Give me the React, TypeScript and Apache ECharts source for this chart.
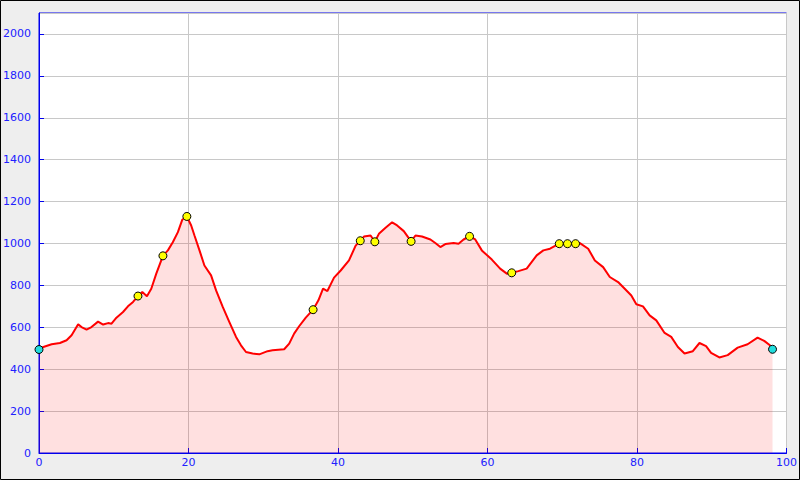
import React, { useEffect, useRef } from "react";
import * as echarts from "echarts";

const distances = [
  0, 0.58, 1.69, 2.8, 3.69, 4.36, 5.24, 5.69, 6.36, 7.02, 7.9, 8.58, 9.24, 9.7, 10.36, 11.24, 11.9, 12.58,
  13.24, 13.82, 14.44, 15.02, 15.69, 16.58, 17.24, 17.9, 18.58, 19.16, 19.78, 20.36, 20.8, 21.47, 22.13,
  23.02, 23.69, 24.58, 25.47, 26.36, 27.02, 27.69, 28.58, 29.47, 30.58, 31.24, 32.8, 33.47, 34.13, 34.8,
  35.69, 36.67, 37.38, 38, 38.58, 39.47, 40.36, 41.47, 42.36, 42.98, 43.47, 44.36, 44.93, 45.47, 46.36,
  47.24, 47.91, 48.8, 49.78, 50.36, 51.24, 52.36, 53.02, 53.69, 54.36, 55.47, 56.13, 56.8, 57.6, 58.36,
  59.24, 60.58, 61.69, 62.58, 63.24, 64.13, 65.24, 66.58, 67.47, 68.36, 69.6, 70.7, 71.78, 72.36, 73.47,
  74.36, 75.47, 76.36, 77.47, 78.36, 79.24, 79.91, 80.8, 81.69, 82.58, 83.69, 84.58, 85.47, 86.36, 87.47,
  88.36, 89.24, 89.91, 91.02, 92.13, 93.47, 94.8, 96.13, 97.02, 97.78, 98.13,
];
const elevations = [
  494, 506, 519, 525, 538, 562, 614, 601, 589, 601, 627, 613, 620, 617, 646, 673, 700, 721,
  749, 768, 748, 784, 856, 941, 967, 1006, 1054, 1113, 1129, 1086, 1038, 967, 895,
  848, 776, 697, 625, 554, 514, 482, 475, 471, 486, 490, 495, 522, 570, 605,
  646, 684, 729, 784, 773, 837, 871, 919, 990, 1013, 1033, 1038, 1008, 1046, 1075,
  1101, 1086, 1059, 1010, 1038, 1033, 1019, 1002, 983, 997, 1002, 999, 1019, 1034, 1019,
  967, 923, 880, 856, 860, 868, 880, 943, 967, 975, 999, 999, 999, 1002, 975,
  919, 887, 840, 816, 784, 752, 710, 700, 657, 633, 573, 554, 506, 475, 486,
  525, 510, 478, 456, 467, 503, 519, 551, 535, 514, 495,
];

const waypointDist = [13.24, 16.58, 19.78, 36.67, 42.98, 44.93, 49.78, 57.6, 63.24, 69.6, 70.7, 71.78];
const waypointElev = [749, 941, 1129, 684, 1013, 1008, 1010, 1034, 860, 999, 999, 999];

const endDist = [0, 98.13];
const endElev = [494, 495];

export default function App() {
  const ref = useRef<HTMLDivElement>(null);
  useEffect(() => {
    if (!ref.current) return;
    const chart = echarts.init(ref.current, undefined, { renderer: "svg" });
    const blue = "#0000ee";
    const labelBlue = "#2020ff";
    chart.setOption({
      animation: false,
      backgroundColor: "#eeeeee",
      textStyle: { fontFamily: "DejaVu Sans" },
      graphic: [
        {
          type: "rect",
          shape: { x: 0.5, y: 0.5, width: 799, height: 479 },
          style: { fill: "none", stroke: "#000", lineWidth: 1 },
          silent: true,
          z: 100,
        },
      ],
      grid: {
        left: 39,
        right: 11,
        top: 13,
        bottom: 27,
        show: true,
        backgroundColor: "#ffffff",
        borderColor: blue,
        borderWidth: 1,
      },
      xAxis: {
        type: "value",
        min: 0,
        max: 100,
        interval: 20,
        axisLine: { show: true, onZero: false, lineStyle: { color: blue, width: 1 } },
        axisTick: { show: true, inside: true, length: 5, lineStyle: { color: blue } },
        axisLabel: { color: labelBlue, fontSize: 11, margin: 4, fontFamily: "DejaVu Sans" },
        splitLine: { show: true, lineStyle: { color: "#c8c8c8", width: 1 } },
      },
      yAxis: {
        type: "value",
        min: 0,
        max: 2100,
        interval: 200,
        axisLine: { show: true, lineStyle: { color: blue, width: 1 } },
        axisTick: { show: true, inside: true, length: 5, lineStyle: { color: blue } },
        axisLabel: {
          color: labelBlue,
          fontSize: 11,
          margin: 8,
          fontFamily: "DejaVu Sans",
          showMaxLabel: false,
          formatter: (v: number) => (v % 200 === 0 ? String(v) : ""),
        },
        splitLine: { show: true, lineStyle: { color: "#c8c8c8", width: 1 } },
      },
      series: [
        {
          type: "line",
          data: distances.map((d, i) => [d, elevations[i]]),
          showSymbol: false,
          symbol: "none",
          lineStyle: { color: "#ff0000", width: 2 },
          areaStyle: { color: "rgba(255,0,0,0.12)", opacity: 1, origin: "start" },
          z: 2,
        },
        {
          type: "scatter",
          data: waypointDist.map((d, i) => [d, waypointElev[i]]),
          symbol: "circle",
          symbolSize: 8,
          itemStyle: { color: "#ffff00", borderColor: "#000000", borderWidth: 1, opacity: 1 },
          z: 3,
        },
        {
          type: "scatter",
          data: endDist.map((d, i) => [d, endElev[i]]),
          symbol: "circle",
          symbolSize: 8,
          itemStyle: { color: "#22dddd", borderColor: "#000000", borderWidth: 1, opacity: 1 },
          z: 3,
        },
      ],
    });
    return () => chart.dispose();
  }, []);
  return (
    <div
      ref={ref}
      style={{ position: "fixed", left: 0, top: 0, width: 800, height: 480 }}
    />
  );
}
